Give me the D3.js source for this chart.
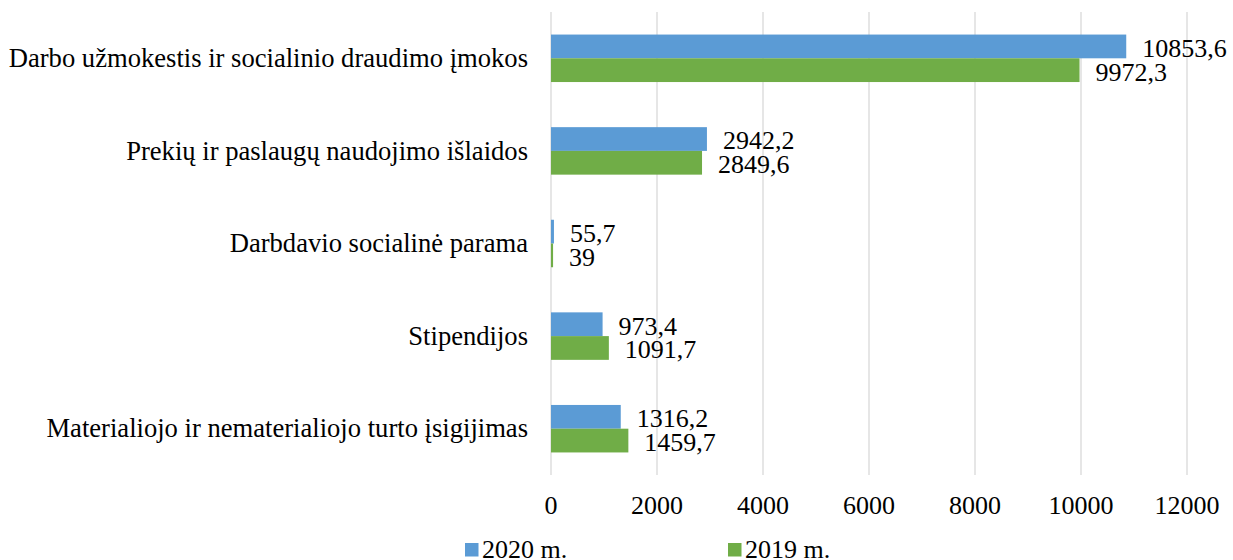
<!DOCTYPE html>
<html>
<head>
<meta charset="utf-8">
<script src="https://cdn.jsdelivr.net/npm/d3@7"></script>
<style>
  body { margin: 0; background: #fff; }
  text { font-family: "Liberation Serif", "Times New Roman", serif; }
</style>
</head>
<body>
<svg id="chart"></svg>
<script>
const svgWidth = 1233, svgHeight = 560;

const categories = [
  "Darbo užmokestis ir socialinio draudimo įmokos",
  "Prekių ir paslaugų naudojimo išlaidos",
  "Darbdavio socialinė parama",
  "Stipendijos",
  "Materialiojo ir nematerialiojo turto įsigijimas"
];
const seriesNames = ["2020 m.", "2019 m."];
const values2020 = [10853.6, 2942.2, 55.7, 973.4, 1316.2];
const values2019 = [9972.3, 2849.6, 39, 1091.7, 1459.7];
const labels2020 = ["10853,6", "2942,2", "55,7", "973,4", "1316,2"];
const labels2019 = ["9972,3", "2849,6", "39", "1091,7", "1459,7"];
const xTicks = [0, 2000, 4000, 6000, 8000, 10000, 12000];
const colors = ["#5B9BD5", "#70AD47"];

const svg = d3.select("#chart")
    .attr("width", svgWidth)
    .attr("height", svgHeight);

const plotLeft = 551, plotRight = 1187, plotTop = 12, plotBottom = 475;

const x = d3.scaleLinear()
    .domain([0, 12000])
    .range([plotLeft, plotRight]);

const y = d3.scaleBand()
    .domain(categories)
    .range([plotTop, plotBottom]);

const inner = d3.scaleBand()
    .domain(seriesNames)
    .range([0, y.bandwidth()])
    .paddingInner(0)
    .paddingOuter(0.95);

// gridlines
svg.append("g")
    .selectAll("line")
    .data(xTicks)
    .enter()
    .append("line")
    .attr("x1", d => x(d))
    .attr("x2", d => x(d))
    .attr("y1", plotTop)
    .attr("y2", plotBottom)
    .attr("stroke", "#d9d9d9")
    .attr("stroke-width", 1.3);

// tick labels
svg.append("g")
    .selectAll("text")
    .data(xTicks)
    .enter()
    .append("text")
    .attr("x", d => x(d))
    .attr("y", 514)
    .attr("text-anchor", "middle")
    .attr("font-size", "26px")
    .attr("fill", "#000")
    .text(d => d);

// category labels
svg.append("g")
    .selectAll("text")
    .data(categories)
    .enter()
    .append("text")
    .attr("x", 528)
    .attr("y", d => y(d) + y.bandwidth() / 2)
    .attr("dy", "0.33em")
    .attr("text-anchor", "end")
    .attr("font-size", "26.6px")
    .attr("fill", "#000")
    .text(d => d);

const seriesData = [values2020, values2019];
const seriesLabels = [labels2020, labels2019];

seriesNames.forEach((name, s) => {
  const g = svg.append("g");
  g.selectAll("rect")
    .data(categories)
    .enter()
    .append("rect")
    .attr("x", x(0))
    .attr("y", d => y(d) + inner(name))
    .attr("width", (d, i) => x(seriesData[s][i]) - x(0))
    .attr("height", inner.bandwidth())
    .attr("fill", colors[s]);

  g.selectAll("text")
    .data(categories)
    .enter()
    .append("text")
    .attr("x", (d, i) => x(seriesData[s][i]) + 16)
    .attr("y", d => y(d) + inner(name) + inner.bandwidth() / 2)
    .attr("dy", "0.4em")
    .attr("font-size", "26px")
    .attr("fill", "#000")
    .text((d, i) => seriesLabels[s][i]);
});

// legend
const legendX = [465, 728];
const legend = svg.append("g")
    .selectAll("g")
    .data(seriesNames)
    .enter()
    .append("g")
    .attr("transform", (d, i) => `translate(${legendX[i]},0)`);

legend.append("rect")
    .attr("x", 0)
    .attr("y", 543)
    .attr("width", 13.5)
    .attr("height", 13.5)
    .attr("fill", (d, i) => colors[i]);

legend.append("text")
    .attr("x", 17)
    .attr("y", 558)
    .attr("font-size", "26px")
    .attr("fill", "#000")
    .text(d => d);
</script>
</body>
</html>
